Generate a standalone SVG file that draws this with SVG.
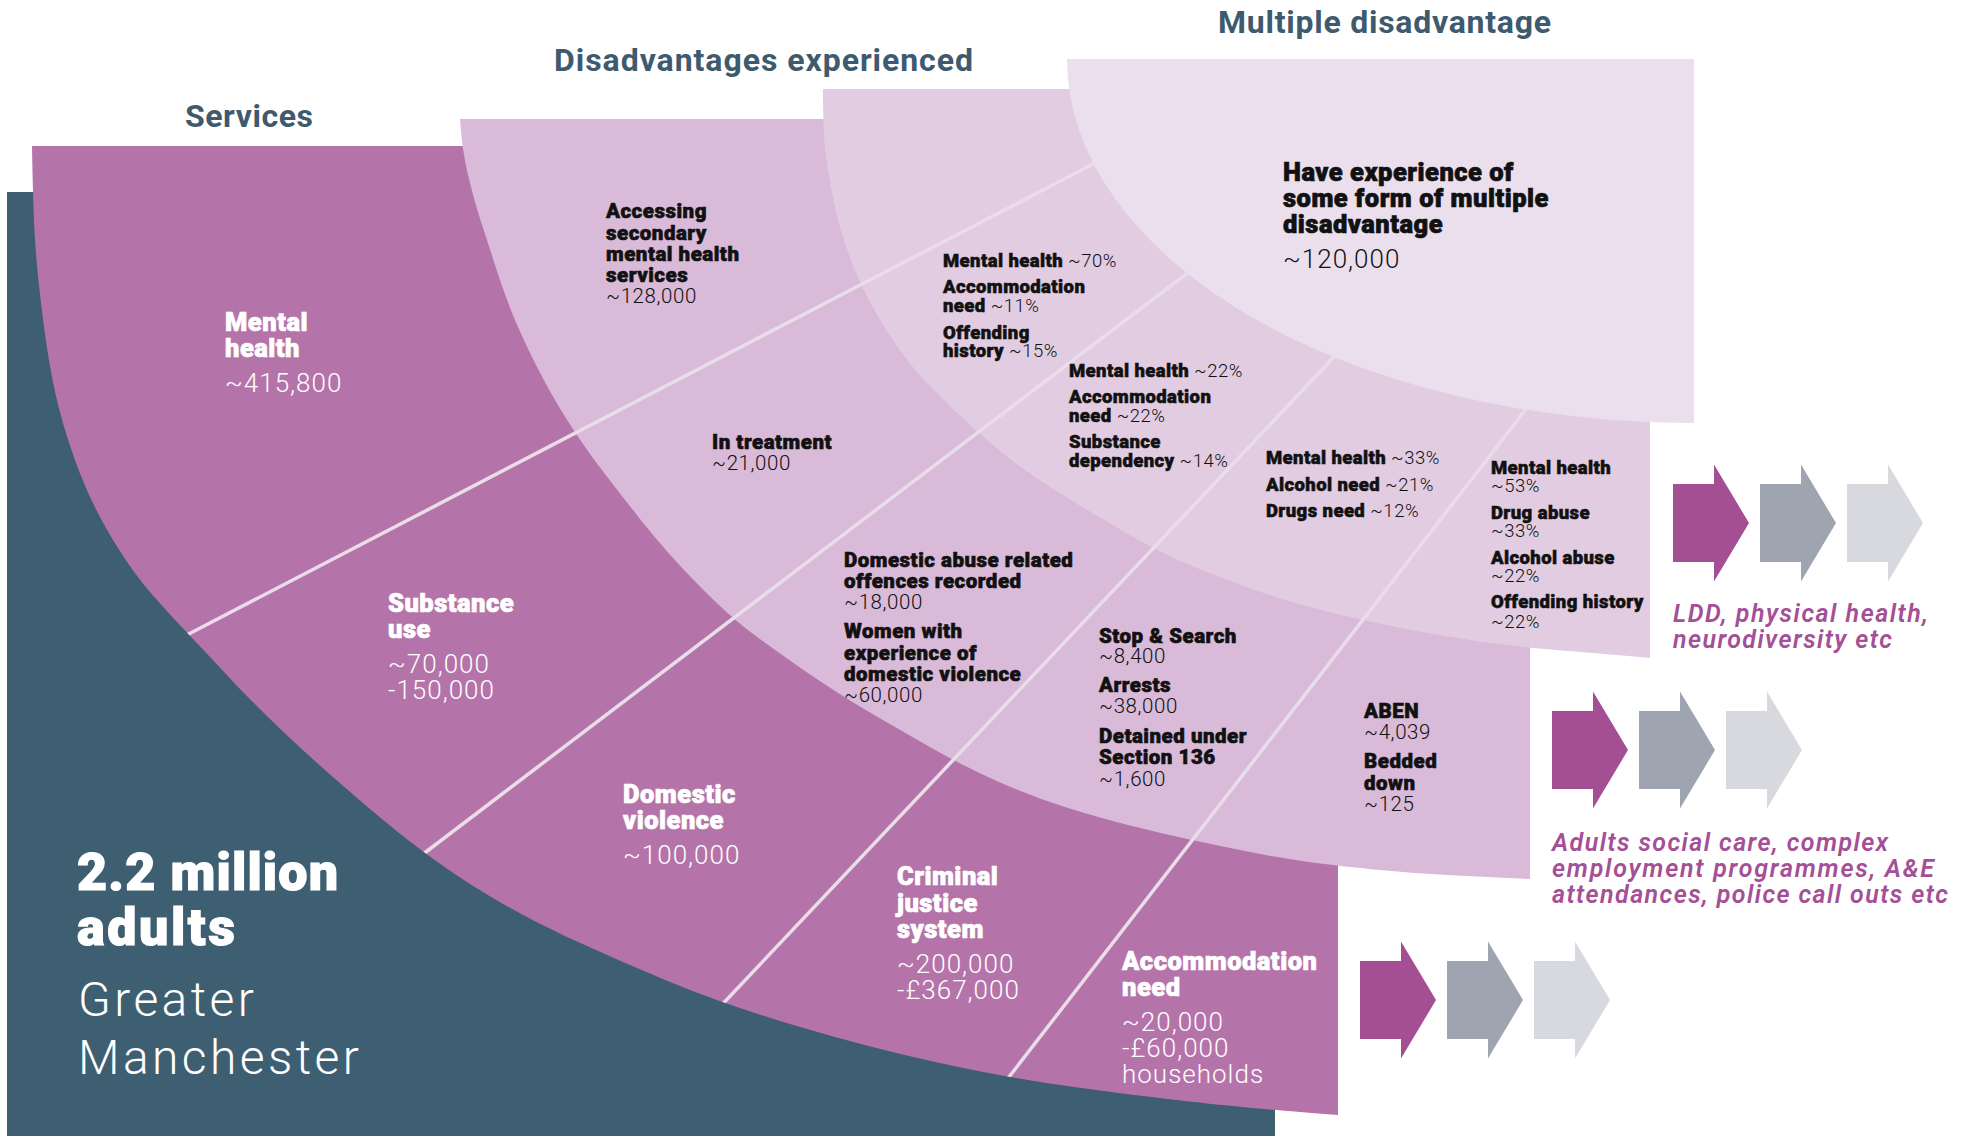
<svg xmlns="http://www.w3.org/2000/svg" width="1971" height="1136" viewBox="0 0 1971 1136">
  <defs>
    <style>
      text { font-family: Roboto, "Liberation Sans", Arial, sans-serif; }
      .title { font-size: 32px; font-weight: 700; fill: #3d5a6e; }
      .wb, .kb, .sb, .big { font-family: "Roboto Black", Roboto, "Liberation Sans", Arial, sans-serif; font-weight: 900; }
      .wl, .kl, .sl, .place { font-family: "Roboto Light", Roboto, "Liberation Sans", Arial, sans-serif; font-weight: 300; }
      .wb { fill: #ffffff; stroke: #ffffff; stroke-width: 0.7px; font-size: 25.5px; letter-spacing: 0.5px; }
      .wl { fill: #ffffff; font-size: 26px; letter-spacing: 1px; }
      .kb { fill: #111111; stroke: #111111; stroke-width: 0.6px; font-size: 20.5px; letter-spacing: 0.5px; }
      .kl { fill: #111111; font-size: 20.5px; letter-spacing: 0.6px; }
      .sb { fill: #111111; stroke: #111111; stroke-width: 0.55px; font-size: 18.5px; letter-spacing: 0.4px; }
      .sl { fill: #111111; font-size: 18.5px; letter-spacing: 0.5px; }
      .big { fill: #ffffff; stroke: #ffffff; stroke-width: 1.2px; font-size: 52px; }
      .place { fill: #ffffff; font-size: 48px; }
      .note { fill: #a44f96; font-style: italic; font-weight: 600; font-size: 25px; }
      .divider { stroke: #e9dde9; stroke-width: 3.5; fill: none; }
      .a1 { fill: #a44f93; }
      .a2 { fill: #9ea4b0; }
      .a3 { fill: #d8d9de; }
    </style>
    <polygon id="arw" points="0,-39 41,-39 41,-58.5 76,0 41,58.5 41,39 0,39"/>
    <!-- everything above/right of the inner services arc -->
    <clipPath id="ringClip">
      <path d="M32,146 Q33,207 35,240 Q37,273 43.5,323 Q50,373 58.5,406.5 Q67,440 80,473.5 Q93,507 113,540 Q133,573 152.5,595 Q172,617 192.5,638.5 Q213,660 231.5,680 Q250,700 283.5,732 Q317,764 370,809 Q423,854 470,884 Q517,914 567,937 Q617,960 670,982 Q723,1004 795,1025.5 Q867,1047 937.5,1062.5 Q1008,1078 1070.5,1086.5 Q1133,1095 1176.5,1100 Q1220,1105 1247.5,1107.5 Q1275,1110 1338,1115 L1971,1115 L1971,0 L32,0 Z"/>
    </clipPath>
  </defs>

  <rect width="1971" height="1136" fill="#ffffff"/>

  <!-- population block -->
  <g id="population">
    <rect x="7" y="192" width="1268" height="944" fill="#3e5e72"/>
  </g>

  <!-- services ring -->
  <g id="services">
    <path fill="#b574a9" d="M32,146 Q33,207 35,240 Q37,273 43.5,323 Q50,373 58.5,406.5 Q67,440 80,473.5 Q93,507 113,540 Q133,573 152.5,595 Q172,617 192.5,638.5 Q213,660 231.5,680 Q250,700 283.5,732 Q317,764 370,809 Q423,854 470,884 Q517,914 567,937 Q617,960 670,982 Q723,1004 795,1025.5 Q867,1047 937.5,1062.5 Q1008,1078 1070.5,1086.5 Q1133,1095 1176.5,1100 Q1220,1105 1247.5,1107.5 Q1275,1110 1338,1115 L1338,146 Z"/>
  </g>

  <!-- disadvantages ring -->
  <g id="disadvantages">
    <path fill="#d9bad8" d="M460,119 Q462,150 468,175 Q474,200 480.5,220 Q487,240 495,265 Q503,290 511.5,311.5 Q520,333 535,363 Q550,393 566.5,419 Q583,445 600,467.5 Q617,490 642,521.5 Q667,553 697,583.5 Q727,614 748.5,630.5 Q770,647 805,671 Q840,695 870,712.5 Q900,730 932.5,748.5 Q965,767 999,782 Q1033,797 1066.5,807.5 Q1100,818 1130,825.5 Q1160,833 1187.5,839 Q1215,845 1247.5,851.5 Q1280,858 1309,862 Q1338,866 1385.5,870.5 Q1433,875 1530,879 L1530,119 Z"/>
  </g>

  <!-- overlap ring -->
  <g id="overlaps">
    <path fill="#e2cce2" d="M823,89 Q823,130 825,148.5 Q827,167 833.5,200 Q840,233 853,265.5 Q866,298 885.5,329 Q905,360 927.5,383.5 Q950,407 975,429.5 Q1000,452 1016.5,464 Q1033,476 1051.5,488 Q1070,500 1110,523.5 Q1150,547 1175,558.5 Q1200,570 1245,586.5 Q1290,603 1336.5,614 Q1383,625 1425,632.5 Q1467,640 1498.5,644 Q1530,648 1575,651.5 Q1620,655 1650,658 L1650,89 Z"/>
  </g>

  <!-- radial dividers between categories -->
  <g id="dividers" clip-path="url(#ringClip)">
    <line class="divider" x1="183" y1="637" x2="1120" y2="150"/>
    <line class="divider" x1="414" y1="861" x2="1210" y2="256"/>
    <line class="divider" x1="716" y1="1011" x2="1350" y2="340"/>
    <line class="divider" x1="1002" y1="1086" x2="1540" y2="391"/>
  </g>

  <!-- multiple disadvantage core -->
  <g id="multiple">
    <path fill="#ebdfee" d="M1067,59 L1694,59 L1694,423 A627,364 0 0 1 1067,59 Z"/>
    <text><tspan class="wb" style="fill:#111;stroke:#111" x="1283" y="181">Have experience of</tspan><tspan class="wb" style="fill:#111;stroke:#111" x="1283" y="207">some form of multiple</tspan><tspan class="wb" style="fill:#111;stroke:#111" x="1283" y="233">disadvantage</tspan><tspan class="wl" style="fill:#111" x="1283" y="268">~120,000</tspan></text>
  </g>

  <!-- column headings -->
  <g id="titles">
    <text class="title" x="185" y="127" textLength="128">Services</text>
    <text class="title" x="554" y="71" textLength="419">Disadvantages experienced</text>
    <text class="title" x="1218" y="33" textLength="333">Multiple disadvantage</text>
  </g>

  <!-- population label -->
  <g id="population-label">
    <text class="big" x="77" y="890" textLength="261">2.2 million</text>
    <text class="big" x="77" y="945" textLength="158">adults</text>
    <text class="place" x="78" y="1016" textLength="176">Greater</text>
    <text class="place" x="78" y="1074" textLength="281">Manchester</text>
  </g>

  <!-- service labels -->
  <g id="svc-mental-health">
    <text><tspan class="wb" x="225" y="331">Mental</tspan><tspan class="wb" x="225" y="357">health</tspan><tspan class="wl" x="225" y="392">~415,800</tspan></text>
  </g>
  <g id="svc-substance">
    <text><tspan class="wb" x="388" y="612">Substance</tspan><tspan class="wb" x="388" y="638">use</tspan><tspan class="wl" x="388" y="673">~70,000</tspan><tspan class="wl" x="388" y="699">-150,000</tspan></text>
  </g>
  <g id="svc-domestic">
    <text><tspan class="wb" x="623" y="803">Domestic</tspan><tspan class="wb" x="623" y="829">violence</tspan><tspan class="wl" x="623" y="864">~100,000</tspan></text>
  </g>
  <g id="svc-criminal">
    <text><tspan class="wb" x="897" y="885">Criminal</tspan><tspan class="wb" x="897" y="912">justice</tspan><tspan class="wb" x="897" y="938">system</tspan><tspan class="wl" x="897" y="973">~200,000</tspan><tspan class="wl" x="897" y="999">-£367,000</tspan></text>
  </g>
  <g id="svc-accommodation">
    <text><tspan class="wb" x="1122" y="970">Accommodation</tspan><tspan class="wb" x="1122" y="996">need</tspan><tspan class="wl" x="1122" y="1031">~20,000</tspan><tspan class="wl" x="1122" y="1057">-£60,000</tspan><tspan class="wl" x="1122" y="1083">households</tspan></text>
  </g>

  <!-- disadvantage labels -->
  <g id="dis-mental-health">
    <text><tspan class="kb" x="606" y="218">Accessing</tspan><tspan class="kb" x="606" y="240">secondary</tspan><tspan class="kb" x="606" y="261">mental health</tspan><tspan class="kb" x="606" y="282">services</tspan><tspan class="kl" x="606" y="303">~128,000</tspan></text>
  </g>
  <g id="dis-substance">
    <text><tspan class="kb" x="712" y="449">In treatment</tspan><tspan class="kl" x="712" y="470">~21,000</tspan></text>
  </g>
  <g id="dis-domestic">
    <text><tspan class="kb" x="844" y="567">Domestic abuse related</tspan><tspan class="kb" x="844" y="588">offences recorded</tspan><tspan class="kl" x="844" y="609">~18,000</tspan><tspan class="kb" x="844" y="638">Women with</tspan><tspan class="kb" x="844" y="660">experience of</tspan><tspan class="kb" x="844" y="681">domestic violence</tspan><tspan class="kl" x="844" y="702">~60,000</tspan></text>
  </g>
  <g id="dis-criminal">
    <text><tspan class="kb" x="1099" y="643">Stop &amp; Search</tspan><tspan class="kl" x="1099" y="663">~8,400</tspan><tspan class="kb" x="1099" y="692">Arrests</tspan><tspan class="kl" x="1099" y="713">~38,000</tspan><tspan class="kb" x="1099" y="743">Detained under</tspan><tspan class="kb" x="1099" y="764">Section 136</tspan><tspan class="kl" x="1099" y="786">~1,600</tspan></text>
  </g>
  <g id="dis-accommodation">
    <text><tspan class="kb" x="1364" y="718">ABEN</tspan><tspan class="kl" x="1364" y="739">~4,039</tspan><tspan class="kb" x="1364" y="768">Bedded</tspan><tspan class="kb" x="1364" y="790">down</tspan><tspan class="kl" x="1364" y="811">~125</tspan></text>
  </g>

  <!-- overlap labels -->
  <g id="ov-mental-health">
    <text><tspan class="sb" x="943" y="267">Mental health</tspan><tspan class="sl"> ~70%</tspan><tspan class="sb" x="943" y="293">Accommodation</tspan><tspan class="sb" x="943" y="312">need</tspan><tspan class="sl"> ~11%</tspan><tspan class="sb" x="943" y="339">Offending</tspan><tspan class="sb" x="943" y="357">history</tspan><tspan class="sl"> ~15%</tspan></text>
  </g>
  <g id="ov-substance">
    <text><tspan class="sb" x="1069" y="377">Mental health</tspan><tspan class="sl"> ~22%</tspan><tspan class="sb" x="1069" y="403">Accommodation</tspan><tspan class="sb" x="1069" y="422">need</tspan><tspan class="sl"> ~22%</tspan><tspan class="sb" x="1069" y="448">Substance</tspan><tspan class="sb" x="1069" y="467">dependency</tspan><tspan class="sl"> ~14%</tspan></text>
  </g>
  <g id="ov-criminal">
    <text><tspan class="sb" x="1266" y="464">Mental health</tspan><tspan class="sl"> ~33%</tspan><tspan class="sb" x="1266" y="491">Alcohol need</tspan><tspan class="sl"> ~21%</tspan><tspan class="sb" x="1266" y="517">Drugs need</tspan><tspan class="sl"> ~12%</tspan></text>
  </g>
  <g id="ov-accommodation">
    <text><tspan class="sb" x="1491" y="474">Mental health</tspan><tspan class="sl" x="1491" y="492">~53%</tspan><tspan class="sb" x="1491" y="519">Drug abuse</tspan><tspan class="sl" x="1491" y="537">~33%</tspan><tspan class="sb" x="1491" y="564">Alcohol abuse</tspan><tspan class="sl" x="1491" y="582">~22%</tspan><tspan class="sb" x="1491" y="608">Offending history</tspan><tspan class="sl" x="1491" y="628">~22%</tspan></text>
  </g>

  <!-- onward flow arrows -->
  <g id="flow-1">
    <use href="#arw" class="a1" x="1673" y="523"/>
    <use href="#arw" class="a2" x="1760" y="523"/>
    <use href="#arw" class="a3" x="1847" y="523"/>
    <text class="note" x="1673" y="622" textLength="255">LDD, physical health,</text>
    <text class="note" x="1673" y="648" textLength="219">neurodiversity etc</text>
  </g>
  <g id="flow-2">
    <use href="#arw" class="a1" x="1552" y="750"/>
    <use href="#arw" class="a2" x="1639" y="750"/>
    <use href="#arw" class="a3" x="1726" y="750"/>
    <text class="note" x="1552" y="851" textLength="336">Adults social care, complex</text>
    <text class="note" x="1552" y="877" textLength="382">employment programmes, A&amp;E</text>
    <text class="note" x="1552" y="903" textLength="396">attendances, police call outs etc</text>
  </g>
  <g id="flow-3">
    <use href="#arw" class="a1" x="1360" y="1000"/>
    <use href="#arw" class="a2" x="1447" y="1000"/>
    <use href="#arw" class="a3" x="1534" y="1000"/>
  </g>
</svg>
